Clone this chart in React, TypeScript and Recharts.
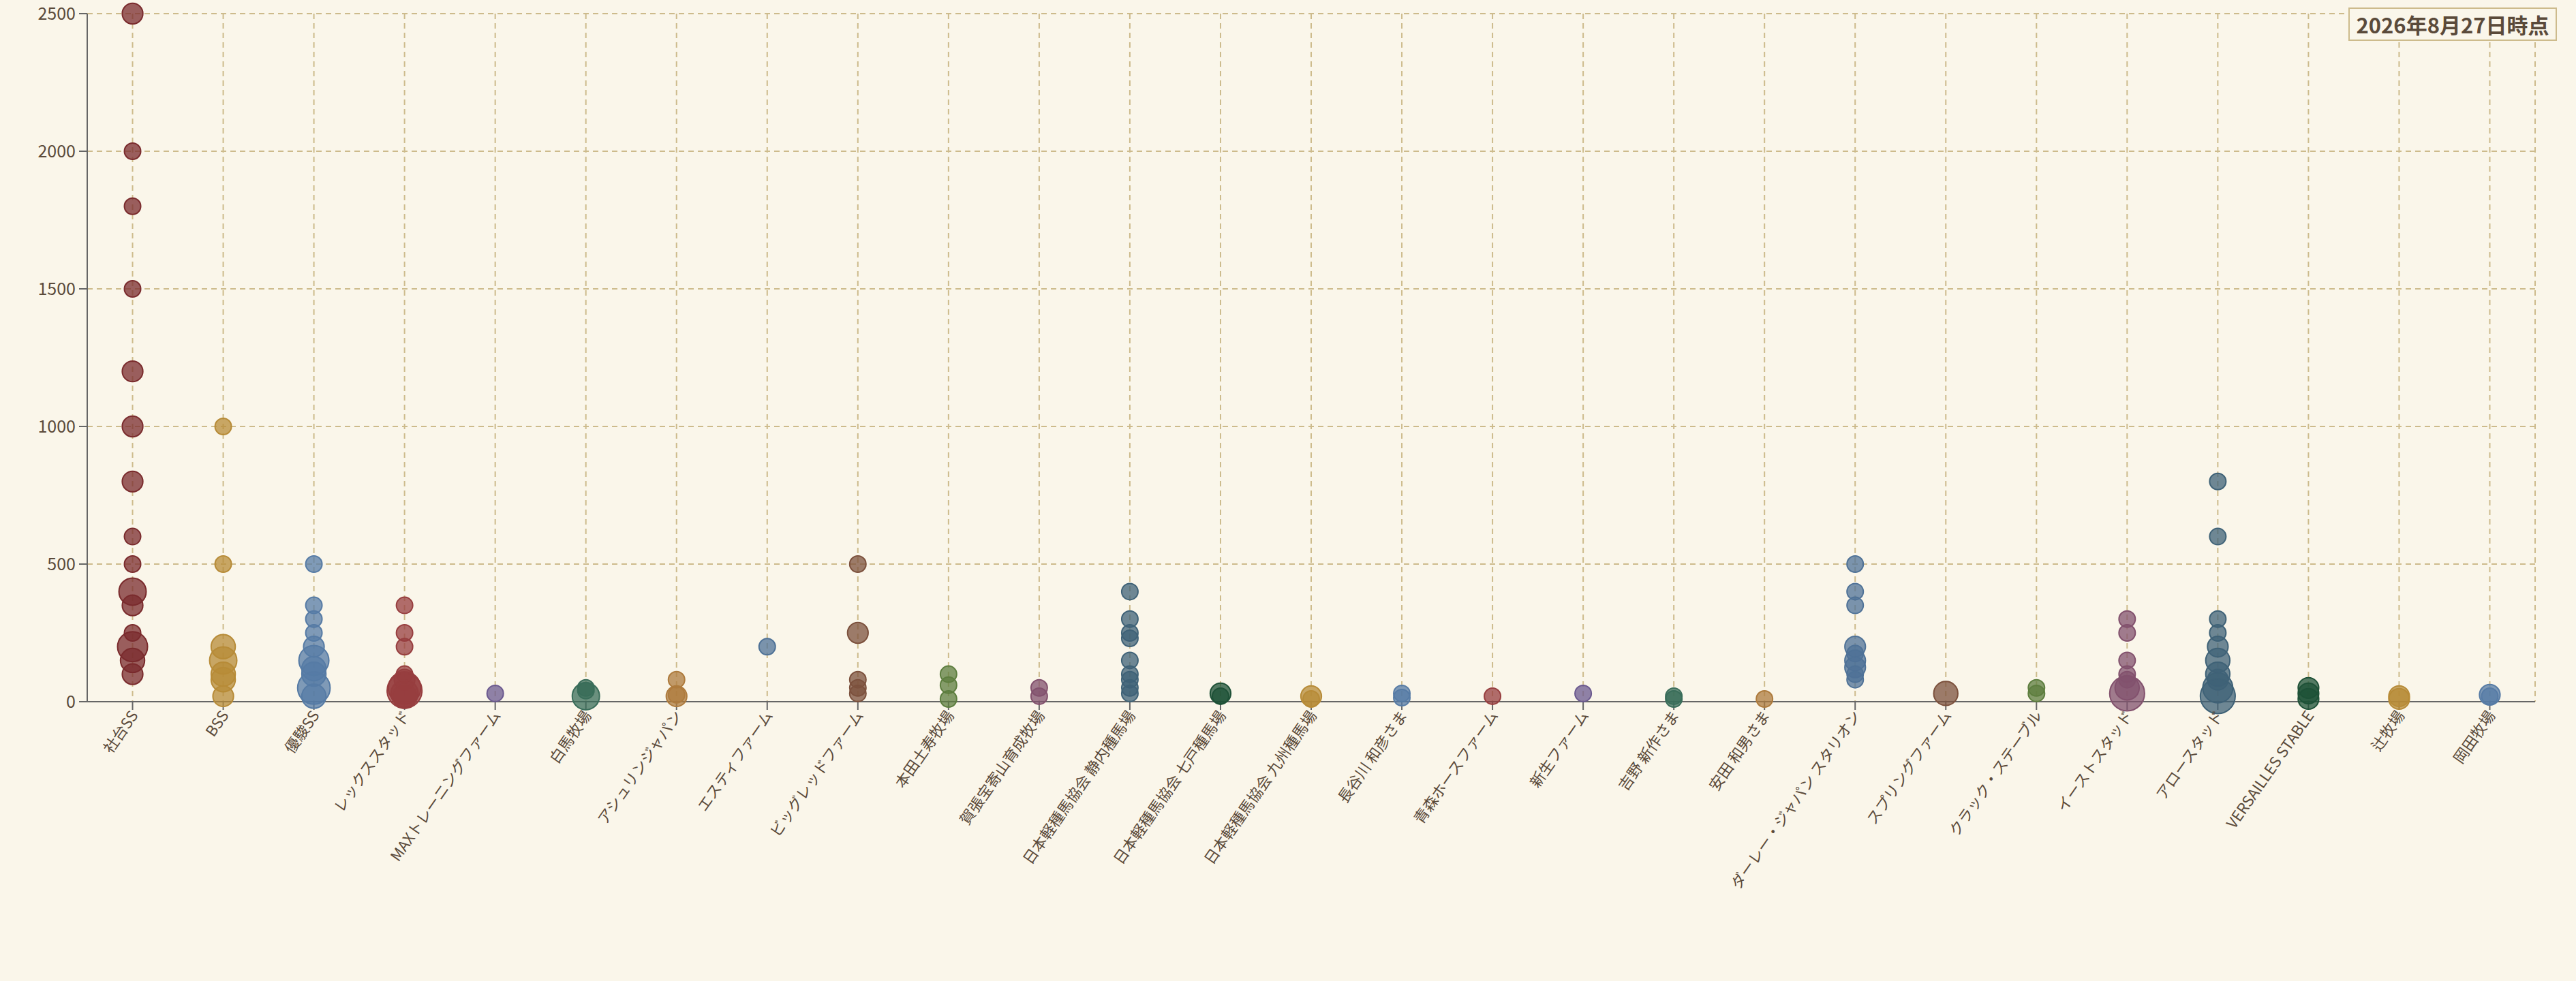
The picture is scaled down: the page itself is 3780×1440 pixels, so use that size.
import React from 'react';
import {
  ScatterChart,
  Scatter,
  XAxis,
  YAxis,
  ZAxis,
  CartesianGrid,
  Cell,
} from 'recharts';

// 種牡馬繋養先ごとの種付料（万円）と、同額の頭数（バブルの大きさ）
const farms = [
  '社台SS',
  'BSS',
  '優駿SS',
  'レックススタッド',
  'MAXトレーニングファーム',
  '白馬牧場',
  'アシュリンジャパン',
  'エスティファーム',
  'ビッグレッドファーム',
  '本田土寿牧場',
  '賀張宝寄山育成牧場',
  '日本軽種馬協会 静内種馬場',
  '日本軽種馬協会 七戸種馬場',
  '日本軽種馬協会 九州種馬場',
  '長谷川 和彦さま',
  '青森ホースファーム',
  '新生ファーム',
  '吉野 新作さま',
  '安田 和男さま',
  'ダーレー・ジャパン スタリオン',
  'スプリングファーム',
  'クラック・ステーブル',
  'イーストスタッド',
  'アロースタッド',
  'VERSAILLES STABLE',
  '辻牧場',
  '岡田牧場',
];

const farmColors = [
  '#7A2B2D', '#B78B37', '#567BA5', '#973E3F', '#6B598F', '#3A6D5A',
  '#AE7B3D', '#4F7297', '#7C513D', '#5D7E3F', '#82516D', '#3F6277',
  '#1E5137', '#B78B37', '#567BA5', '#973E3F', '#6B598F', '#3A6D5A',
  '#AE7B3D', '#4F7297', '#7C513D', '#5D7E3F', '#82516D', '#3F6277',
  '#1E5137', '#B78B37', '#567BA5',
];

const fees: number[][] = [
  [2500, 2000, 1800, 1500, 1200, 1000, 800, 600, 500, 400, 350, 250, 200, 150, 100],
  [1000, 500, 200, 150, 100, 80, 20],
  [500, 350, 300, 250, 200, 150, 120, 100, 50, 20],
  [350, 250, 200, 100, 80, 50, 40, 30, 20],
  [30],
  [50, 40, 20],
  [80, 25, 20],
  [200],
  [500, 250, 80, 50, 30],
  [100, 60, 10],
  [50, 20],
  [400, 300, 250, 230, 150, 100, 80, 50, 30],
  [30, 20],
  [20, 10],
  [30, 15],
  [20],
  [30],
  [20, 10],
  [10],
  [500, 400, 350, 200, 175, 150, 125, 100, 80],
  [30],
  [50, 30],
  [300, 250, 150, 100, 80, 50, 30],
  [800, 600, 300, 250, 200, 150, 100, 80, 50, 20],
  [50, 30, 10],
  [20, 10],
  [25, 20],
];

const counts: number[][] = [
  [2, 1, 1, 1, 2, 2, 2, 1, 1, 4, 2, 1, 5, 3, 2],
  [1, 1, 3, 4, 3, 3, 2],
  [1, 1, 1, 1, 2, 5, 3, 3, 6, 3],
  [1, 1, 1, 1, 2, 6, 7, 4, 3],
  [1],
  [1, 1, 4],
  [1, 1, 2],
  [1],
  [1, 2, 1, 1, 1],
  [1, 1, 1],
  [1, 1],
  [1, 1, 1, 1, 1, 1, 1, 1, 1],
  [2, 1],
  [2, 1],
  [1, 1],
  [1],
  [1],
  [1, 1],
  [1],
  [1, 1, 1, 2, 1, 2, 2, 1, 1],
  [3],
  [1, 1],
  [1, 1, 1, 1, 1, 3, 7],
  [1, 1, 1, 1, 2, 3, 3, 2, 5, 7],
  [2, 2, 2],
  [2, 2],
  [2, 1],
];

const feeTicks = [0, 500, 1000, 1500, 2000, 2500];

const asOfLabel = '2026年8月27日時点';

const BG = '#FAF6EA';
const GRID = '#CDBB8C';
const AXIS = '#666666';
const TEXT = '#5A4A3A';
const FONT = '"Noto Sans CJK JP", "Noto Sans", sans-serif';

const points = farms.flatMap((farm, i) =>
  fees[i].map((fee, j) => ({ farm, fee, count: counts[i][j], color: farmColors[i] }))
);

const FarmTick = (props: any) => {
  const { x, y, payload } = props;
  return (
    <g transform={`translate(${x},${y})`}>
      <text
        x={0}
        y={0}
        dy={11}
        textAnchor="end"
        transform="rotate(-55)"
        fill={TEXT}
        fontSize={22}
        fontFamily={FONT}
      >
        {payload.value}
      </text>
    </g>
  );
};

const App = () => {
  return (
    <div
      style={{
        position: 'fixed',
        left: 0,
        top: 0,
        width: 3780,
        height: 1440,
        background: BG,
        fontFamily: FONT,
      }}
    >
      <ScatterChart
        width={3780}
        height={1440}
        margin={{ top: 20, right: 60, bottom: 0, left: 0 }}
      >
        <CartesianGrid
          stroke={GRID}
          strokeWidth={2}
          strokeDasharray="8 6"
          verticalCoordinatesGenerator={({ offset }: any) => {
            const band = offset.width / farms.length;
            return [
              ...farms.map((_, i) => offset.left + band * (i + 0.5)),
              offset.left + offset.width,
            ];
          }}
        />
        <XAxis
          type="category"
          dataKey="farm"
          allowDuplicatedCategory={false}
          interval={0}
          height={410}
          tick={<FarmTick />}
          tickSize={12}
          axisLine={{ stroke: AXIS, strokeWidth: 2 }}
          tickLine={{ stroke: AXIS, strokeWidth: 2 }}
        />
        <YAxis
          type="number"
          dataKey="fee"
          domain={[0, 2500]}
          ticks={feeTicks}
          width={128}
          tickSize={12}
          tickMargin={5}
          axisLine={{ stroke: AXIS, strokeWidth: 2 }}
          tickLine={{ stroke: AXIS, strokeWidth: 2 }}
          tick={{ fill: TEXT, fontSize: 25, fontFamily: FONT }}
        />
        <ZAxis type="number" dataKey="count" domain={[0, 7]} range={[185, 2055]} />
        <Scatter data={points} isAnimationActive={false} fillOpacity={0.75} strokeWidth={2}>
          {points.map((p, k) => (
            <Cell key={k} fill={p.color} stroke={p.color} />
          ))}
        </Scatter>
      </ScatterChart>
      <div
        style={{
          position: 'absolute',
          left: 3446,
          top: 11,
          width: 306,
          height: 49,
          boxSizing: 'border-box',
          border: `2px solid ${GRID}`,
          background: BG,
          color: TEXT,
          fontWeight: 700,
          fontSize: 31,
          lineHeight: '45px',
          textAlign: 'center',
          whiteSpace: 'nowrap',
        }}
      >
        {asOfLabel}
      </div>
    </div>
  );
};

export default App;
